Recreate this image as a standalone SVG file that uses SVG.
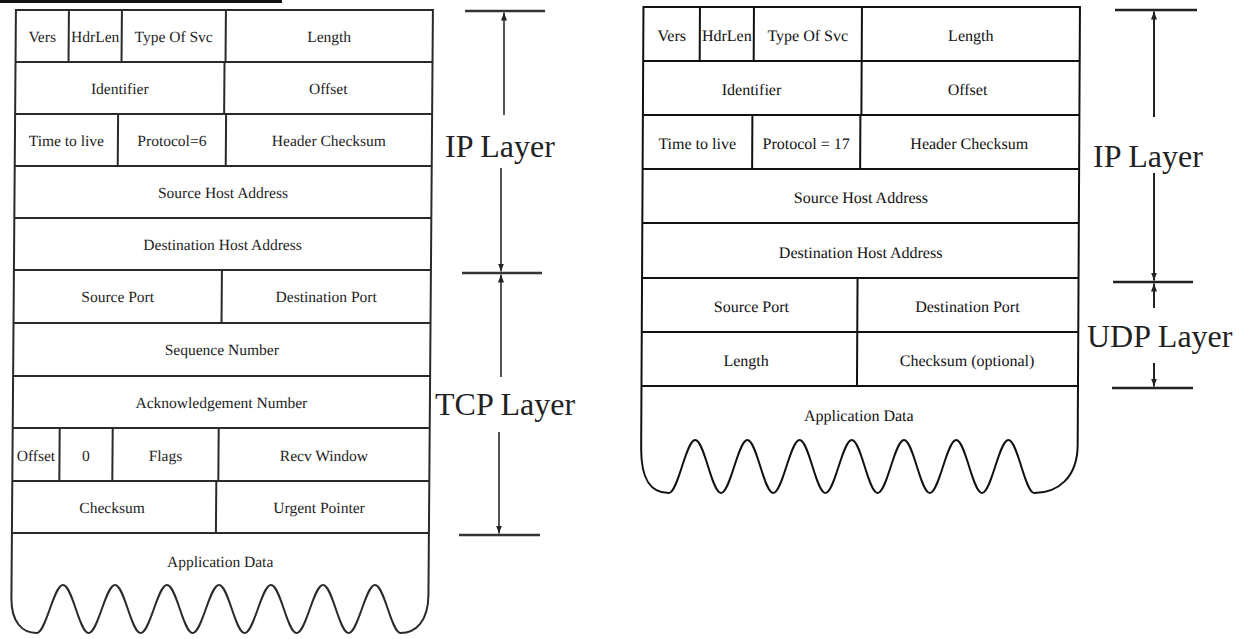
<svg xmlns="http://www.w3.org/2000/svg" width="1246" height="639" viewBox="0 0 1246 639">
<style>
.bg{fill:#fff}
.tl{fill:none;stroke:#2a2a2a;stroke-width:2}
.tr{fill:none;stroke:#111;stroke-width:2}
.ct{font-family:"Liberation Serif","Times New Roman",serif;font-size:15.5px;fill:#1e1e1e;text-anchor:middle}
.cr{font-family:"Liberation Serif","Times New Roman",serif;font-size:16px;fill:#111;text-anchor:middle}
.lab{font-family:"Liberation Serif","Times New Roman",serif;font-size:32px;fill:#222}
.dim{fill:none;stroke:#555;stroke-width:2}
.dimr{fill:none;stroke:#222;stroke-width:2}
.bar{fill:none;stroke:#333;stroke-width:2.5}
.barr{fill:none;stroke:#222;stroke-width:2.5}
</style>
<defs>
<marker id="ah" viewBox="0 0 8 6" refX="8" refY="3" markerWidth="8" markerHeight="6" markerUnits="userSpaceOnUse" orient="auto">
<path d="M0,0 L8,3 L0,6 z" fill="#222"/>
</marker>
</defs>
<rect class="bg" x="0" y="0" width="1246" height="639"/>
<rect x="0" y="0" width="282" height="3" fill="#111"/>

<g id="tcp-packet" transform="skewX(-0.44)">
<path class="tl" d="M16,533 L16,598 C16,622 27,633 41.5,633 C50.9,633 58.1,585 67.5,585 C76.9,585 84.1,633 93.5,633 C102.9,633 110.1,585 119.5,585 C128.9,585 136.1,633 145.5,633 C154.9,633 162.1,585 171.5,585 C180.9,585 188.1,633 197.5,633 C206.9,633 214.1,585 223.5,585 C232.9,585 240.1,633 249.5,633 C258.9,633 266.1,585 275.5,585 C284.9,585 292.1,633 301.5,633 C310.9,633 318.1,585 327.5,585 C336.9,585 344.1,633 353.5,633 C362.9,633 370.1,585 379.5,585 C388.9,585 396.1,633 405.5,633 C420,633 433,622 433,595 L433,10 L16,10 Z"/>
<path class="tl" d="M16,62 H433 M16,114 H433 M16,166 H433 M16,218 H433 M16,270 H433 M16,323 H433 M16,376 H433 M16,428 H433 M16,481 H433 M16,533 H433"/>
<path class="tl" d="M69,10 V62 M122,10 V62 M226,10 V62 M225,62 V114 M119,114 V166 M227,114 V166 M224,270 V323 M63,428 V481 M116,428 V481 M222,428 V481 M220,481 V533"/>
<g id="t-vers"><text class="ct" x="42.5" y="42">Vers</text></g>
<g id="t-hdrlen"><text class="ct" x="95.5" y="42">HdrLen</text></g>
<g id="t-tos"><text class="ct" x="174" y="42">Type Of Svc</text></g>
<g id="t-length"><text class="ct" x="329.5" y="42">Length</text></g>
<g id="t-ident"><text class="ct" x="120.5" y="94">Identifier</text></g>
<g id="t-offset"><text class="ct" x="329" y="94">Offset</text></g>
<g id="t-ttl"><text class="ct" x="67.5" y="146">Time to live</text></g>
<g id="t-proto"><text class="ct" x="173" y="146">Protocol=6</text></g>
<g id="t-hcs"><text class="ct" x="330" y="146">Header Checksum</text></g>
<g id="t-src"><text class="ct" x="224.5" y="198">Source Host Address</text></g>
<g id="t-dst"><text class="ct" x="224.5" y="250">Destination Host Address</text></g>
<g id="t-sport"><text class="ct" x="120" y="302">Source Port</text></g>
<g id="t-dport"><text class="ct" x="328.5" y="302">Destination Port</text></g>
<g id="t-seq"><text class="ct" x="224.5" y="355">Sequence Number</text></g>
<g id="t-ack"><text class="ct" x="224.5" y="408">Acknowledgement Number</text></g>
<g id="t-doff"><text class="ct" x="39.5" y="461">Offset</text></g>
<g id="t-zero"><text class="ct" x="89.5" y="461">0</text></g>
<g id="t-flags"><text class="ct" x="169" y="461">Flags</text></g>
<g id="t-win"><text class="ct" x="327.5" y="461">Recv Window</text></g>
<g id="t-cks"><text class="ct" x="116" y="513">Checksum</text></g>
<g id="t-urg"><text class="ct" x="323" y="513">Urgent Pointer</text></g>
<g id="t-data"><text class="ct" x="224.5" y="567">Application Data</text></g>
</g>

<g id="udp-packet" transform="skewX(-0.3)">
<path class="tr" d="M643.5,7 L643.5,448 C643.5,478 652,493 671.4,493 C680.8,493 688.1,440 697.5,440 C706.9,440 714.2,493 723.6,493 C733,493 740.3,440 749.7,440 C759.1,440 766.4,493 775.8,493 C785.2,493 792.5,440 801.9,440 C811.3,440 818.6,493 828,493 C837.4,493 844.7,440 854.1,440 C863.5,440 870.8,493 880.2,493 C889.6,493 896.9,440 906.3,440 C915.7,440 923,493 932.4,493 C941.8,493 949.1,440 958.5,440 C967.9,440 975.2,493 984.6,493 C994,493 1001.3,440 1010.7,440 C1020.1,440 1027.4,493 1036.8,493 C1060,493 1080,478 1080,445 L1080,7 Z"/>
<path class="tr" d="M643.5,61 H1080 M643.5,115 H1080 M643.5,169 H1080 M643.5,223 H1080 M643.5,278 H1080 M643.5,332 H1080 M643.5,386 H1080"/>
<path class="tr" d="M700,7 V61 M754,7 V61 M862,7 V61 M862,61 V115 M753,115 V169 M861,115 V169 M859,278 V386"/>
<g id="u-vers"><text class="cr" x="672" y="41">Vers</text></g>
<g id="u-hdrlen"><text class="cr" x="727" y="41">HdrLen</text></g>
<g id="u-tos"><text class="cr" x="808" y="41">Type Of Svc</text></g>
<g id="u-length"><text class="cr" x="971" y="41">Length</text></g>
<g id="u-ident"><text class="cr" x="752" y="95">Identifier</text></g>
<g id="u-offset"><text class="cr" x="968" y="95">Offset</text></g>
<g id="u-ttl"><text class="cr" x="698" y="149">Time to live</text></g>
<g id="u-proto"><text class="cr" x="807" y="149">Protocol = 17</text></g>
<g id="u-hcs"><text class="cr" x="970" y="149">Header Checksum</text></g>
<g id="u-src"><text class="cr" x="862" y="203">Source Host Address</text></g>
<g id="u-dst"><text class="cr" x="862" y="258">Destination Host Address</text></g>
<g id="u-sport"><text class="cr" x="753" y="312">Source Port</text></g>
<g id="u-dport"><text class="cr" x="969" y="312">Destination Port</text></g>
<g id="u-len"><text class="cr" x="748" y="366">Length</text></g>
<g id="u-cks"><text class="cr" x="969" y="366">Checksum (optional)</text></g>
<g id="u-data"><text class="cr" x="861" y="421">Application Data</text></g>
</g>

<g id="labels">
<g id="lbl-ip-left"><text class="lab" x="445" y="157">IP Layer</text></g>
<g id="lbl-tcp"><text class="lab" x="435" y="415">TCP Layer</text></g>
<g id="lbl-ip-right"><text class="lab" x="1093" y="167">IP Layer</text></g>
<g id="lbl-udp"><text class="lab" x="1087" y="347">UDP Layer</text></g>
</g>

<g id="connectors">
<path class="bar" d="M465,11 H545 M462,273 H542 M459,535 H540"/>
<line class="dim" x1="504" y1="115" x2="504" y2="12.5" marker-end="url(#ah)"/>
<line class="dim" x1="501" y1="168" x2="501" y2="271.5" marker-end="url(#ah)"/>
<line class="dim" x1="501" y1="377" x2="501" y2="274.5" marker-end="url(#ah)"/>
<line class="dim" x1="499" y1="432" x2="499" y2="533.5" marker-end="url(#ah)"/>
<path class="barr" d="M1115,10 H1197 M1113,282 H1193 M1112,388 H1193"/>
<line class="dimr" x1="1154" y1="117" x2="1154" y2="11.5" marker-end="url(#ah)"/>
<line class="dimr" x1="1154" y1="173" x2="1154" y2="280.5" marker-end="url(#ah)"/>
<line class="dimr" x1="1154" y1="308" x2="1154" y2="283.5" marker-end="url(#ah)"/>
<line class="dimr" x1="1154" y1="363" x2="1154" y2="386.5" marker-end="url(#ah)"/>
</g>
</svg>
